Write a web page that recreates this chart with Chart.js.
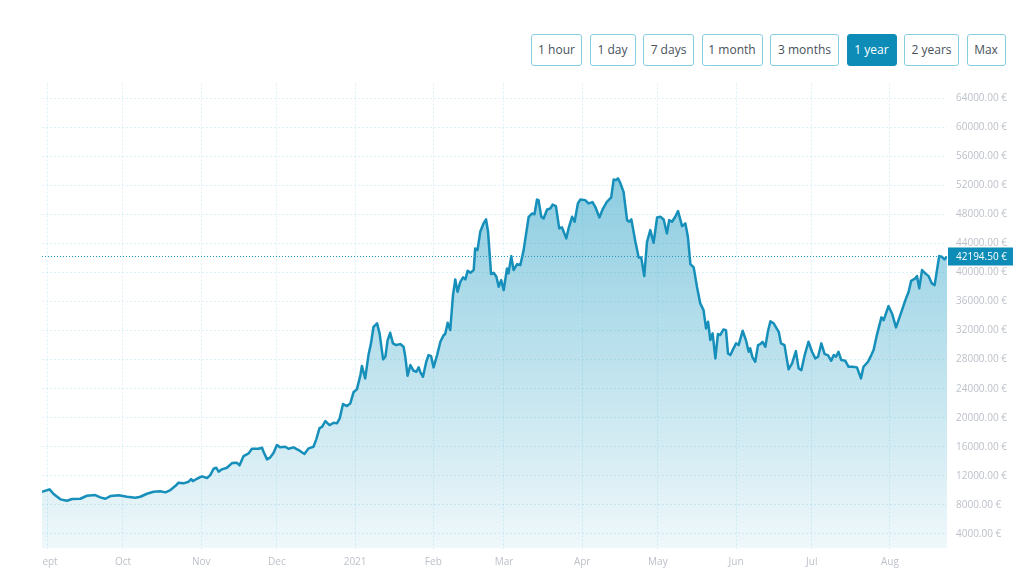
<!DOCTYPE html>
<html>
<head>
<meta charset="utf-8">
<script src="https://cdn.jsdelivr.net/npm/chart.js@4.4.1/dist/chart.umd.min.js"></script>
<style>
    body { margin: 0; background: #fff; font-family: 'Open Sans', sans-serif; }
    #buttons { position: absolute; top: 34px; left: 531px; display: flex; gap: 7.5px; }
    #buttons div {
        height: 30px; line-height: 30px; text-align: center;
        border: 1px solid #86cfe2; border-radius: 3px;
        font-size: 12px; color: #47515b; box-sizing: content-box;
    }
    #buttons div.active { background: #0d8cb7; border-color: #0d8cb7; color: #fff; }
    #wrap { position: absolute; left: 42px; top: 78px; width: 972px; height: 499px; }
</style>
</head>
<body>
<div id="buttons"></div>
<div id="wrap"><canvas id="priceChart"></canvas></div>
<script>
// range buttons
var rangeLabels = ['1 hour', '1 day', '7 days', '1 month', '3 months', '1 year', '2 years', 'Max'];
var rangeWidths = [49, 44, 49, 59, 67, 48, 53, 37];
var activeRange = '1 year';

// days counted from 1 Sept 2020, price in EUR
var days = [-2.1, 0.9, 2.5, 5.2, 7.8, 9.8, 13.1, 15.7, 19.0, 21.0, 23.0, 25.0, 28.3, 31.6, 34.9, 36.9, 39.5, 42.1, 44.8, 46.8,
    48.8, 50.7, 52.0, 54.0, 56.0, 57.0, 57.7, 59.3, 61.3, 63.3, 64.6, 65.9, 67.0, 67.9, 69.2, 71.2, 73.2, 75.2, 76.2, 77.8,
    79.8, 81.1, 83.7, 85.1, 85.7, 87.1, 88.4, 89.7, 91.0, 92.3, 94.3, 95.6, 97.6, 99.6, 101.9, 103.6, 105.5, 106.6, 107.9, 108.9,
    110.2, 111.9, 113.5, 114.8, 115.9, 117.2, 118.8, 120.1, 121.4, 122.7, 124.1, 124.7, 126.0, 127.3, 128.3, 129.3, 130.7, 131.7, 133.1, 134.0,
    134.9, 135.9, 137.0, 138.3, 139.9, 141.2, 141.9, 142.8, 143.9, 145.2, 146.3, 147.2, 147.8, 148.9, 150.2, 151.1, 152.1, 153.1, 154.5, 155.8,
    157.1, 157.7, 158.7, 159.7, 160.8, 161.7, 162.6, 163.7, 164.8, 165.7, 166.6, 167.7, 169.0, 169.6, 170.5, 171.6, 172.9, 173.9, 174.7, 175.9,
    176.9, 178.0, 178.9, 179.9, 180.9, 182.2, 182.8, 183.9, 184.8, 186.2, 187.5, 188.8, 190.8, 192.1, 193.1, 194.1, 194.7, 195.8, 196.7, 198.1,
    199.4, 200.3, 201.6, 202.9, 204.0, 205.7, 206.6, 208.0, 209.0, 210.3, 211.3, 213.2, 214.5, 216.1, 217.2, 218.8, 220.1, 221.8, 223.5, 224.5,
    225.4, 226.2, 227.1, 228.4, 229.8, 230.7, 231.5, 233.1, 234.4, 235.4, 236.6, 237.7, 239.0, 240.3, 241.7, 243.0, 244.3, 245.6, 246.5, 247.6,
    248.9, 250.0, 251.6, 252.9, 253.9, 254.9, 256.2, 257.5, 258.8, 260.1, 261.1, 261.9, 262.8, 263.7, 264.8, 265.8, 266.7, 268.0, 269.0, 269.8,
    270.7, 272.0, 273.0, 274.0, 275.6, 276.9, 278.0, 278.6, 279.5, 280.6, 281.7, 282.6, 283.5, 284.6, 285.6, 286.6, 287.9, 289.9, 290.8, 292.2,
    293.8, 295.2, 296.7, 297.8, 298.9, 300.2, 301.7, 303.1, 304.4, 305.5, 306.8, 308.1, 309.4, 310.7, 311.7, 312.6, 313.6, 314.7, 316.3, 317.6,
    319.2, 320.9, 322.5, 323.5, 325.3, 326.6, 327.5, 328.8, 330.6, 331.5, 333.4, 334.8, 336.4, 337.4, 339.0, 340.1, 341.4, 342.4, 344.0, 344.7,
    345.6, 346.7, 348.0, 349.3, 350.6, 351.7, 353.5, 354.6, 355.6, 356.6];
var prices = [9811, 10140, 9494, 8765, 8573, 8806, 8848, 9261, 9357, 9040, 8848, 9219, 9316, 9123, 8985, 9123, 9536, 9811, 9866, 9728,
    10045, 10595, 11049, 10967, 11187, 11558, 11283, 11600, 11930, 11696, 12109, 12976, 13114, 12563, 12893, 13114, 13760, 13802, 13444, 14723,
    15095, 15728, 15728, 15865, 15315, 14269, 14544, 15177, 16237, 15920, 16003, 15728, 15920, 15549, 14998, 15783, 16003, 17022, 18576, 18755,
    19540, 18989, 19306, 19224, 19911, 21878, 21603, 21975, 23530, 23901, 25869, 27107, 25415, 28621, 30231, 32515, 32983, 31607, 28029, 28387,
    30685, 31690, 30231, 29997, 30134, 29763, 28387, 25773, 27245, 26461, 26323, 26928, 26323, 25635, 27700, 28621, 28484, 26928, 28621, 30452,
    31373, 31511, 33066, 32061, 36877, 39037, 37331, 38707, 39312, 39037, 40220, 39945, 40317, 43303, 43069, 45587, 46742, 47293, 45587, 39766,
    39945, 39395, 38018, 38941, 37565, 40551, 39863, 42243, 40317, 41142, 41005, 43069, 47655, 48101, 48005, 50027, 49949, 47655, 47426, 48662,
    48800, 49345, 49126, 46054, 46193, 44679, 46054, 47655, 46970, 49500, 50027, 49949, 49500, 49674, 49033, 47568, 48662, 49724, 50321, 52802,
    52700, 52934, 52328, 51091, 47196, 46970, 47293, 44212, 42063, 42063, 39491, 44212, 45821, 44074, 47568, 47655, 47293, 45367, 47196, 46970,
    47655, 48450, 46371, 46742, 44908, 41142, 40689, 38018, 35734, 34813, 32295, 33205, 30685, 31607, 28166, 31511, 31373, 32157, 32061, 28855,
    28621, 29543, 30231, 29997, 31965, 30685, 29076, 29543, 28304, 27700, 29997, 30134, 30452, 29763, 31827, 33260, 32983, 31827, 30231, 29997,
    26653, 27479, 29172, 26791, 26557, 28621, 30452, 29076, 28166, 28387, 30231, 28758, 28621, 27837, 28621, 28387, 29076, 27933, 27837, 27011,
    27011, 26928, 25415, 27011, 27700, 28621, 29309, 31373, 33810, 33438, 35363, 34355, 32433, 33438, 35046, 36189, 37331, 38844, 39174, 39491,
    37800, 40317, 39863, 39491, 38487, 38253, 42243, 42150, 41789, 42194.5];

// x axis: first day of each month
var monthDays = [0, 30, 61, 91, 122, 153, 181, 212, 242, 273, 303, 334];
var monthLabels = ['Sept', 'Oct', 'Nov', 'Dec', '2021', 'Feb', 'Mar', 'Apr', 'May', 'Jun', 'Jul', 'Aug'];
var priceTicks = [4000, 8000, 12000, 16000, 20000, 24000, 28000, 32000, 36000, 40000, 44000, 48000, 52000, 56000, 60000, 64000];
var lastPrice = prices[prices.length - 1];

function cObj(id) {
    return document.getElementById(id);
}

function euro(v) {
    return v.toFixed(2) + ' \u20ac';
}

// no extra room for labels that stick out, the canvas edge just cuts them
function noPadding(scale) {
    scale.paddingLeft = 0;
    scale.paddingRight = 0;
    scale.paddingTop = 0;
    scale.paddingBottom = 0;
}

// buttons row
var btnBox = cObj('buttons');
for (let i = 0; i < rangeLabels.length; i++) {
    var b = document.createElement('div');
    b.textContent = rangeLabels[i];
    b.style.width = rangeWidths[i] + 'px';
    if (rangeLabels[i] == activeRange) b.className = 'active';
    btnBox.appendChild(b);
}

var points = [];
for (let i = 0; i < days.length; i++) {
    points.push({ x: days[i], y: prices[i] });
}

// dotted line + label for current price
var currentPrice = {
    id: 'currentPrice',
    afterDatasetsDraw: function (chart) {
        var ctx = chart.ctx;
        var area = chart.chartArea;
        var y = Math.round(chart.scales.y.getPixelForValue(lastPrice)) + 0.5;
        ctx.save();
        ctx.strokeStyle = '#2a9cc4';
        ctx.lineWidth = 1;
        ctx.setLineDash([1, 2]);
        ctx.beginPath();
        ctx.moveTo(area.left, y);
        ctx.lineTo(area.right, y);
        ctx.stroke();
        ctx.fillStyle = '#0d8cb7';
        ctx.fillRect(area.right + 1, y - 9, chart.width - area.right - 2, 18);
        ctx.fillStyle = '#ffffff';
        ctx.font = '10px "Open Sans"';
        ctx.textBaseline = 'middle';
        ctx.fillText(euro(lastPrice), area.right + 9, y + 0.5);
        ctx.restore();
    }
};

var gridColor = 'rgba(150, 212, 232, 0.32)';

new Chart(cObj('priceChart'), {
    type: 'line',
    data: {
        datasets: [{
            data: points,
            borderColor: '#168fba',
            borderWidth: 2.5,
            borderJoinStyle: 'round',
            pointRadius: 0,
            tension: 0,
            fill: 'start',
            backgroundColor: function (context) {
                var area = context.chart.chartArea;
                if (!area) return 'rgba(30,155,195,0.3)';
                var g = context.chart.ctx.createLinearGradient(0, area.top, 0, area.bottom);
                g.addColorStop(0, 'rgba(30,155,195,0.62)');
                g.addColorStop(1, 'rgba(30,155,195,0.07)');
                return g;
            }
        }]
    },
    options: {
        responsive: true,
        maintainAspectRatio: false,
        animation: false,
        layout: { autoPadding: false, padding: { top: 5.5, bottom: 8.5, left: 0, right: 0 } },
        scales: {
            x: {
                type: 'linear',
                min: days[0],
                max: days[days.length - 1],
                afterBuildTicks: function (scale) {
                    scale.ticks = monthDays.map(function (d) { return { value: d }; });
                },
                afterFit: function (scale) {
                    noPadding(scale);
                    scale.height = 20;
                },
                ticks: {
                    autoSkip: false,
                    maxRotation: 0,
                    padding: 8,
                    color: '#bcc1c9',
                    font: { family: 'Open Sans', size: 10 },
                    callback: function (value) {
                        return monthLabels[monthDays.indexOf(value)];
                    }
                },
                grid: { color: gridColor, drawTicks: false },
                border: { display: false, dash: [2, 2] }
            },
            y: {
                position: 'right',
                min: 2000,
                max: 66000,
                afterBuildTicks: function (scale) {
                    scale.ticks = priceTicks.map(function (v) { return { value: v }; });
                },
                afterFit: function (scale) {
                    noPadding(scale);
                    scale.width = 67;
                },
                ticks: {
                    padding: 9,
                    color: '#bcc1c9',
                    font: { family: 'Open Sans', size: 10 },
                    callback: function (value) {
                        return euro(value);
                    }
                },
                grid: { color: gridColor, drawTicks: false },
                border: { display: false, dash: [2, 2] }
            }
        },
        plugins: {
            legend: { display: false },
            tooltip: { enabled: false }
        }
    },
    plugins: [currentPrice]
});
</script>
</body>
</html>
